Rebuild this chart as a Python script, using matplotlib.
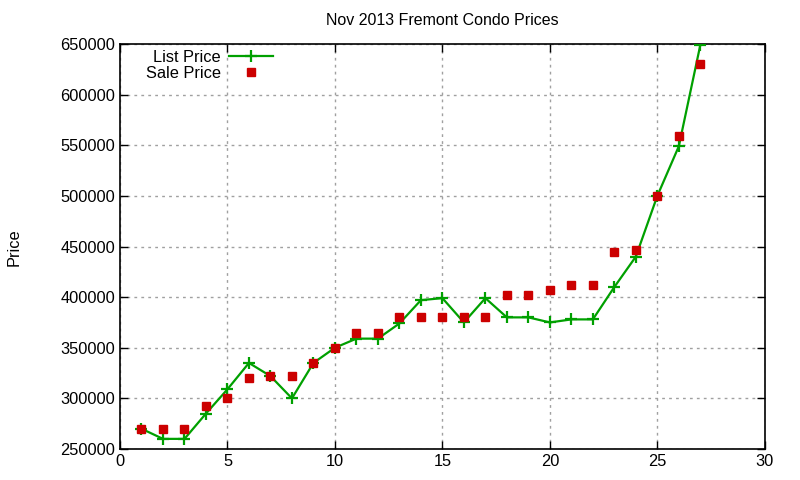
import matplotlib
matplotlib.use("Agg")
import matplotlib.pyplot as plt
from matplotlib.ticker import MultipleLocator

plt.rcParams['font.family'] = ['Liberation Sans', 'DejaVu Sans']

# 数据
units = list(range(1, 28))
list_price = [270000, 260000, 260000, 285000, 309000, 335000, 322000, 300000, 335000,
              350000, 359000, 359000, 374000, 397000, 399000, 375000, 399000, 380000,
              380000, 375000, 378000, 378000, 410000, 440000, 500000, 549000, 649000]
sale_price = [270000, 270000, 270000, 292000, 300000, 320000, 322000, 322000, 335000,
              350000, 365000, 365000, 380000, 380000, 380000, 380000, 380000, 402000,
              402000, 407000, 412000, 412000, 445000, 447000, 500000, 559000, 630000]

fig = plt.figure(figsize=(8, 4.8), dpi=100)
ax = fig.add_axes([0.15, 0.0646, 0.806, 0.8437])

ax.plot(units, list_price, color='#00a000', linewidth=1.6, marker='+',
        markersize=8, markeredgewidth=1.6, label='List Price', zorder=3)
ax.plot(units, sale_price, linestyle='none', color='#cc0000', marker='s',
        markersize=6, label='Sale Price', zorder=4)

ax.set_xlim(0, 30)
ax.set_ylim(250000, 650000)
ax.xaxis.set_major_locator(MultipleLocator(5))
ax.yaxis.set_major_locator(MultipleLocator(50000))
ax.tick_params(direction='in', top=True, right=True, length=6, labelsize=11.8, width=1)
ax.grid(True, linestyle=(0, (2, 3)), color='#a0a0a0', linewidth=1)
for s in ax.spines.values():
    s.set_linewidth(1.2)

ax.set_title("Nov 2013 Fremont Condo Prices", fontsize=11.5, pad=14)
fig.text(0.018, 0.485, "Price", rotation=90, fontsize=11.8, va='center', ha='center')

leg = ax.legend(loc='upper left', markerfirst=False, frameon=False, fontsize=11.8,
                handlelength=2.7, handletextpad=0.5, borderaxespad=0.1,
                labelspacing=0.05, bbox_to_anchor=(0.027, 1.005))
for t in leg.get_texts():
    t.set_ha('right')

fig.savefig("out.png", dpi=100)
